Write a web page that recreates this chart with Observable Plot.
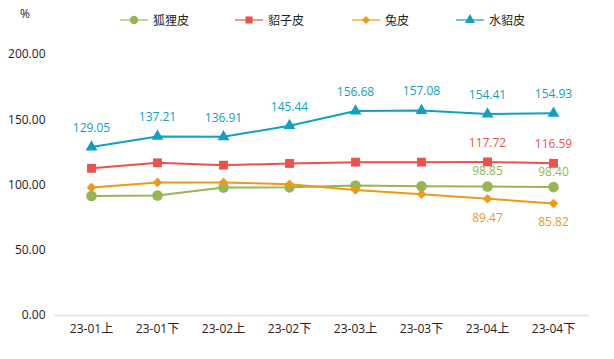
<!DOCTYPE html>
<html><head><meta charset="utf-8">
<script src="https://cdn.jsdelivr.net/npm/d3@7"></script>
<script src="https://cdn.jsdelivr.net/npm/@observablehq/plot@0.6"></script>
<style>
body{margin:0;background:#fff;font-family:"Open Sans","Noto Sans CJK SC",sans-serif;}
#wrap{position:relative;width:614px;height:359px;}
#legend{position:absolute;left:0;top:0;width:614px;height:40px;font-size:12px;color:#222;}
.item{position:absolute;top:11px;display:flex;align-items:center;height:18px;}
.item svg{margin-right:5px;}
#unit{position:absolute;left:20px;top:5px;font-size:12px;color:#222;}
</style></head><body>
<div id="wrap"><div id="chart"></div><div id="legend"><div id="unit">%</div></div></div>
<script>
const categories = ["23-01上","23-01下","23-02上","23-02下","23-03上","23-03下","23-04上","23-04下"];
const seriesNames = ["狐狸皮","貂子皮","兔皮","水貂皮"];
const colors = ["#97b552","#ec524b","#ee9a16","#119fc2"];
const symbols = ["circle","square","diamond2","triangle"];
const fox   = [91.6, 92.0, 98.0, 98.2, 99.6, 99.0, 98.85, 98.40];
const sable = [112.8, 117.0, 115.2, 116.5, 117.5, 117.5, 117.72, 116.59];
const rabbit= [98.0, 102.0, 102.0, 100.5, 96.2, 93.0, 89.47, 85.82];
const mink  = [129.05, 137.21, 136.91, 145.44, 156.68, 157.08, 154.41, 154.93];
const yTicks = [0, 50, 100, 150, 200];
// which points get a value label, and where (above/below)
const labelIdx = [[6,7],[6,7],[6,7],[0,1,2,3,4,5,6,7]];
const labelPos = ["above","above","below","above"];

const allValues = [fox, sable, rabbit, mink];
const data = [];
allValues.forEach((vals, s) => vals.forEach((v, i) => data.push({cat: categories[i], v, s: seriesNames[s], si: s, i})));

const marks = [
  Plot.ruleY([0], {stroke: "#e0e0e0", strokeWidth: 1.5})
];
const radii = [5.3, 5, 4.3, 4.4];
seriesNames.forEach((name, s) => {
  const d = data.filter(p => p.si === s);
  marks.push(Plot.line(d, {x: "cat", y: "v", stroke: colors[s], strokeWidth: 2}));
  marks.push(Plot.dot(d, {x: "cat", y: "v", fill: colors[s], r: radii[s], symbol: symbols[s], stroke: "none"}));
  const lab = d.filter(p => labelIdx[s].includes(p.i));
  const dy = labelPos[s] === "above" ? (s === 0 ? -15 : -19) : 19;
  marks.push(Plot.text(lab, {x: "cat", y: "v", text: p => p.v.toFixed(2), fill: colors[s], dy, fontSize: 12}));
});

const chart = Plot.plot({
  width: 614, height: 359,
  marginLeft: 54, marginRight: 25, marginTop: 54, marginBottom: 44,
  style: {fontFamily: '"Open Sans","Noto Sans CJK SC",sans-serif', fontSize: "12px", color: "#222", background: "#fff"},
  x: {type: "band", domain: categories, padding: 0, label: null, tickSize: 0, tickPadding: 9},
  y: {domain: [0, 200], ticks: yTicks, tickFormat: d3.format(".2f"), label: null, tickSize: 0, tickPadding: 9},
  marks
});
document.getElementById("chart").appendChild(chart);

const legend = document.getElementById("legend");
const lx = [120, 235, 352, 456];
seriesNames.forEach((name, s) => {
  const div = document.createElement("div");
  div.className = "item";
  div.style.left = lx[s] + "px";
  const sym = d3.symbol(s===0?d3.symbolCircle:s===1?d3.symbolSquare:s===2?d3.symbolDiamond2:d3.symbolTriangle, s===0?55:s===1?50:s===2?40:45)();
  div.innerHTML = `<svg width="28" height="14"><line x1="0" x2="28" y1="7" y2="7" stroke="${colors[s]}" stroke-opacity="0.6" stroke-width="2"/><path d="${sym}" transform="translate(14,7)" fill="${colors[s]}"/></svg><span>${name}</span>`;
  legend.appendChild(div);
});
</script>
</body></html>
